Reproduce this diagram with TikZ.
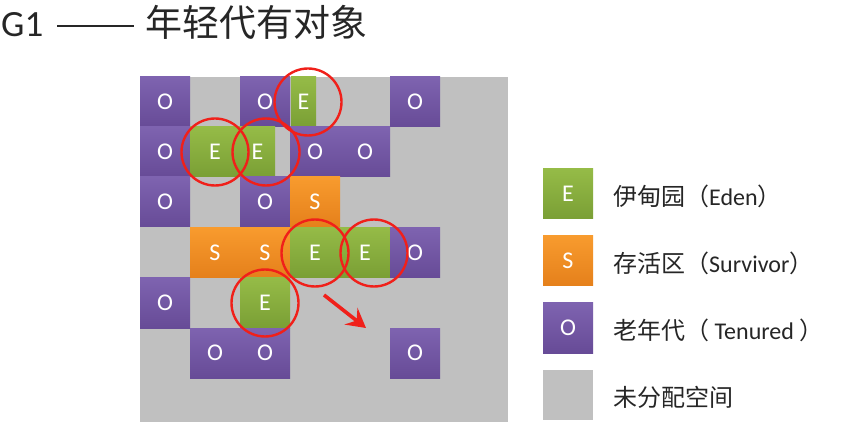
\documentclass[tikz,border=0pt]{standalone}
\usepackage{fontspec}
\setmainfont{Carlito}
\newfontfamily\cjk{Noto Sans CJK SC}
\usetikzlibrary{arrows.meta}
\definecolor{pTop}{HTML}{7E63B0}
\definecolor{pBot}{HTML}{674B97}
\definecolor{gTop}{HTML}{95BB47}
\definecolor{gBot}{HTML}{7A9F35}
\definecolor{oTop}{HTML}{F89B2E}
\definecolor{oBot}{HTML}{E5801B}
\definecolor{areagray}{HTML}{C0C0C0}
\definecolor{ringred}{HTML}{F0201A}
\definecolor{txt}{HTML}{262626}
\tikzset{
  cellbase/.style={rectangle, minimum width=50pt, minimum height=50pt, inner sep=0pt,
    text=white, font=\fontsize{24}{24}\selectfont},
  cellO/.style={cellbase, top color=pTop, bottom color=pBot},
  cellE/.style={cellbase, top color=gTop, bottom color=gBot},
  cellS/.style={cellbase, top color=oTop, bottom color=oBot},
  cellG/.style={cellbase, fill=areagray},
  ring/.style={circle, draw=ringred, line width=2.4pt, minimum size=67pt, inner sep=0pt},
  legtext/.style={anchor=west, text=txt, font=\fontsize{24}{24}\selectfont, inner sep=0pt},
}
\begin{document}
\begin{tikzpicture}[x=1pt,y=-1pt]
\useasboundingbox (0,0) rectangle (862,430);
\fill[white] (0,0) rectangle (862,430);
% title
\node[anchor=west, text=txt, inner sep=0pt, font=\fontsize{37}{37}\selectfont] (title) at (1,22)
  {G1\hspace{14pt}\rule[9pt]{77pt}{1.6pt}\hspace{11pt}{\cjk 年轻代有对象}};
% unallocated area
\node[fill=areagray, minimum width=368pt, minimum height=345pt, inner sep=0pt, anchor=north west] (area) at (140,77) {};
% row 0
\node[cellO] (r0a) at (165,102) {O};
\node[cellO] (r0c) at (265,102) {O};
\node[cellE, minimum width=25pt] (r0d) at (303.5,102) {E};
\node[cellO] (r0f) at (415,102) {O};
% row 1
\node[cellO] (r1a) at (165,152) {O};
\node[cellE] (r1b) at (215,152) {E};
\node[cellE, minimum width=35pt] (r1c) at (257.5,152) {E};
\node[cellO] (r1d) at (315,152) {O};
\node[cellO] (r1e) at (365,152) {O};
% row 2
\node[cellO] (r2a) at (165,202) {O};
\node[cellO] (r2c) at (265,202) {O};
\node[cellS] (r2d) at (315,202) {S};
% row 3
\node[cellS] (r3b) at (215,252.5) {S};
\node[cellS] (r3c) at (265,252.5) {S};
\node[cellE] (r3d) at (315,252.5) {E};
\node[cellE] (r3e) at (365,252.5) {E};
\node[cellO] (r3f) at (415,252.5) {O};
% row 4
\node[cellO] (r4a) at (165,303) {O};
\node[cellE] (r4c) at (265,303) {E};
% row 5
\node[cellO] (r5b) at (215,353) {O};
\node[cellO] (r5c) at (265,353) {O};
\node[cellO] (r5f) at (415,353) {O};
% rings
\node[ring] (c1) at (308,102) {};
\node[ring] (c2) at (215,152) {};
\node[ring] (c3) at (266,152) {};
\node[ring] (c4) at (315,253) {};
\node[ring] (c5) at (374,253) {};
\node[ring] (c6) at (265,303) {};
% arrow
\coordinate (a1) at (324,295);
\coordinate (a2) at (366,328);
\draw[ringred, line width=3.6pt, -{Stealth[length=19pt,width=21pt,inset=7pt]}] (a1) -- (a2);
% legend
\node[cellE] (lE) at (568,194) {E};
\node[cellS] (lS) at (568,261) {S};
\node[cellO] (lO) at (568,328) {O};
\node[cellG] (lG) at (568,395) {};
\node[legtext] (tE) at (613,196) {{\cjk 伊甸园（}Eden{\cjk ）}};
\node[legtext] (tS) at (613,263) {{\cjk 存活区（}Survivor{\cjk ）}};
\node[legtext] (tO) at (613,330) {{\cjk 老年代（} Tenured {\cjk ）}};
\node[legtext] (tG) at (613,397) {{\cjk 未分配空间}};
\end{tikzpicture}
\end{document}
